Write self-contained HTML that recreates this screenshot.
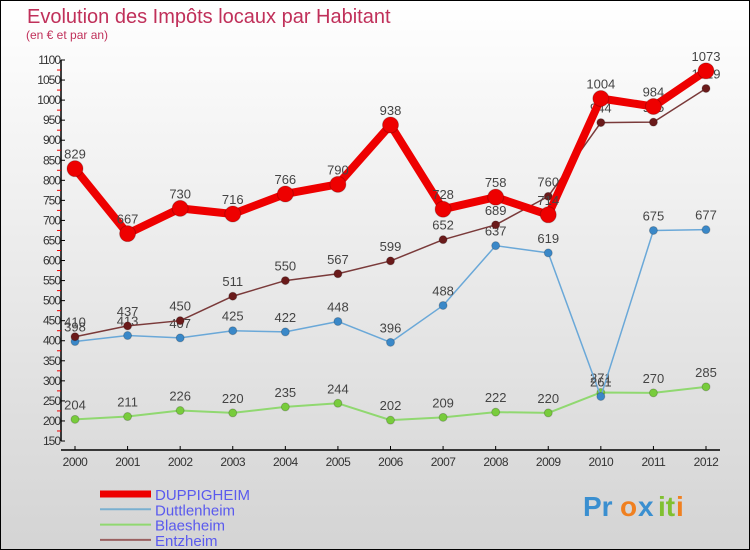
<!DOCTYPE html>
<html><head><meta charset="utf-8"><style>
body{margin:0}
#c{width:750px;height:550px;position:relative;overflow:hidden;font-family:"Liberation Sans",sans-serif}
</style></head><body>
<div id="c">
<svg id="s" width="750" height="550" xmlns="http://www.w3.org/2000/svg">
<defs><linearGradient id="bg" x1="0" y1="0" x2="0" y2="1"><stop offset="0" stop-color="#ffffff"/><stop offset="1" stop-color="#d4d4d4"/></linearGradient></defs>
<rect x="0.5" y="0.5" width="749" height="549" fill="url(#bg)" stroke="#000"/>
<text x="27" y="23" font-size="20" fill="#c0305a">Evolution des Impôts locaux par Habitant</text>
<text x="26" y="39" font-size="12" fill="#c0305a">(en € et par an)</text>
<g id="axes"></g><g id="series"></g><g id="legend"></g>
<g font-size="28" font-weight="bold">
<text x="583" y="516" fill="#3a8fd0">Pr</text><text x="620" y="516" fill="#f08020">o</text><text x="638" y="516" fill="#3a8fd0">x</text><text x="658" y="516" fill="#80c030">it</text><text x="676" y="516" fill="#f08020">i</text>
</g>
</svg></div>
<script>
const years=[2000,2001,2002,2003,2004,2005,2006,2007,2008,2009,2010,2011,2012];
const duppigheim=[829,667,730,716,766,790,938,728,758,714,1004,984,1073];
const duttlenheim=[398,413,407,425,422,448,396,488,637,619,261,675,677];
const blaesheim=[204,211,226,220,235,244,202,209,222,220,271,270,285];
const entzheim=[410,437,450,511,550,567,599,652,689,760,944,945,1029];
const yTicks=[150,200,250,300,350,400,450,500,550,600,650,700,750,800,850,900,950,1000,1050,1100];
const NS="http://www.w3.org/2000/svg";
const X=i=>75+i*(706-75)/12, Y=v=>441-(v-150)*(381/950);
function mk(t,a,p){const e=document.createElementNS(NS,t);for(const k in a)e.setAttribute(k,a[k]);p.appendChild(e);return e;}
const ax=document.getElementById('axes');
let l=mk('line',{x1:61,y1:60,x2:61,y2:441,stroke:'#000','stroke-width':1.5},ax);

l=mk('line',{x1:61,y1:450,x2:720,y2:450,stroke:'#000','stroke-width':1.5},ax);

yTicks.forEach((v,i)=>{
 mk('line',{x1:61,y1:Y(v),x2:65,y2:Y(v),stroke:'#000'},ax);
 if(i<yTicks.length-1) mk('line',{x1:57,y1:Y(v+25),x2:61,y2:Y(v+25),stroke:'#e00'},ax);
 const t=mk('text',{x:60,y:Y(v)+4,'font-size':12,fill:'#333','text-anchor':'end','letter-spacing':'-1'},ax);t.textContent=v;
 
});
years.forEach((y,i)=>{
 mk('line',{x1:X(i),y1:446,x2:X(i),y2:450,stroke:'#000'},ax);
 const t=mk('text',{x:X(i),y:466,'font-size':12,fill:'#333','text-anchor':'middle','letter-spacing':'-0.5'},ax);t.textContent=y;
 
});
const sg=document.getElementById('series');
function series(name,data,color,w,r,dot){
 const g=mk('g',{},sg);
 const p=mk('polyline',{points:data.map((v,i)=>X(i)+','+Y(v)).join(' '),fill:'none',stroke:color,'stroke-width':w,'stroke-linejoin':'round'},g);
 
 data.forEach((v,i)=>{
  const c=mk('circle',{cx:X(i),cy:Y(v),r:r,fill:dot,stroke:'rgba(0,0,0,0.2)'},g);
  
  const t=mk('text',{x:X(i),y:Y(v)-10,'font-size':13,fill:'#444','text-anchor':'middle'},g);t.textContent=v;
  
 });
}
series('blaesheim',blaesheim,'#90d870',2,4,'#78cc3c');
series('duttlenheim',duttlenheim,'#6aa8d8',1.5,4,'#3a88c8');
series('entzheim',entzheim,'#7a3a3a',1.5,4,'#6a1a1a');
series('duppigheim',duppigheim,'#ee0000',8,8,'#ee0000');
const lg=document.getElementById('legend');
[['DUPPIGHEIM','#ee0000',7],['Duttlenheim','#7ab0d0',2],['Blaesheim','#90d870',2],['Entzheim','#9a6060',2]].forEach((d,i)=>{
 const y=493+i*15.3;
 const ln=mk('line',{x1:100,y1:y+1,x2:151,y2:y+1,stroke:d[1],'stroke-width':d[2]},lg);
 
 const t=mk('text',{x:155,y:y+7,'font-size':15,fill:'#5a5aee'},lg);t.textContent=d[0];
 
});
</script>
</body></html>
